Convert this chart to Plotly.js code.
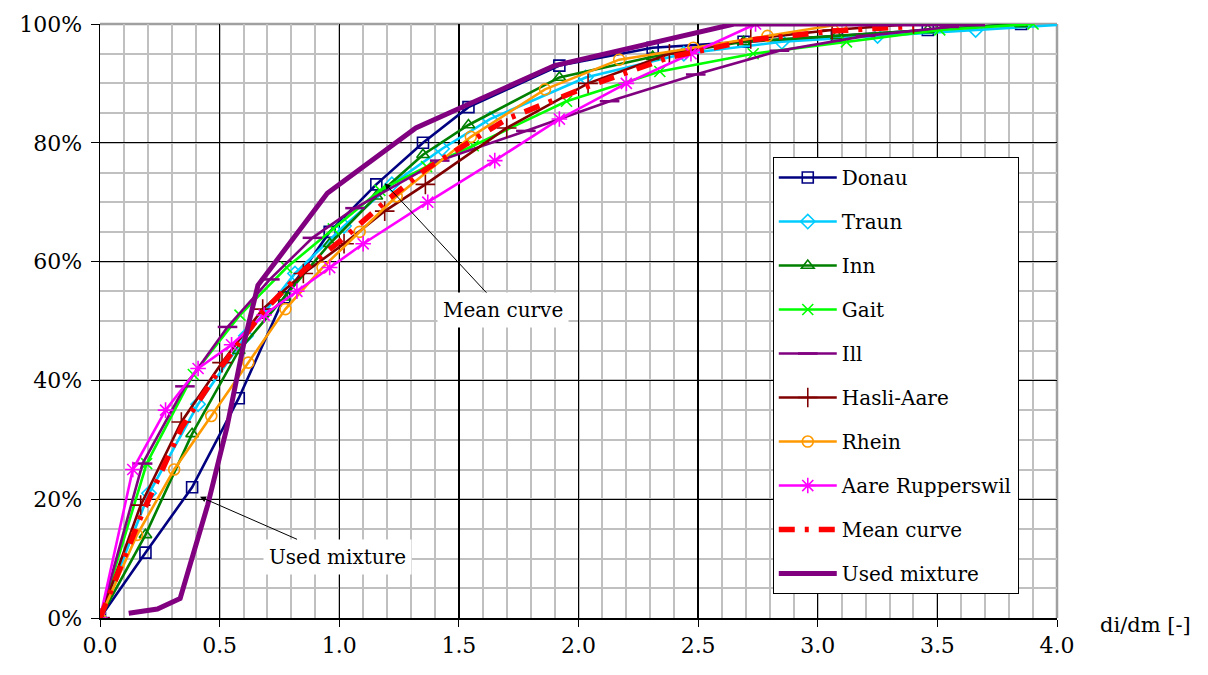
<!DOCTYPE html>
<html>
<head>
<meta charset="utf-8">
<script src="https://cdn.plot.ly/plotly-3.0.1.min.js"></script>
<style>html,body{margin:0;padding:0;background:#fff;}#chart{width:1208px;height:675px;}</style>
</head>
<body>
<div id="chart"></div>
<script>
// Data (x = di/dm, y = % passing)
const donauX = [0, 0.19, 0.385, 0.58, 0.77, 0.96, 1.155, 1.35, 1.54, 1.92, 2.31, 2.69, 3.08, 3.46, 3.85];
const donauY = [0, 11, 22, 37, 54, 65, 73, 80, 86, 93, 96, 97, 98, 99, 100];
const traunX = [0, 0.205, 0.41, 0.61, 0.815, 1.02, 1.22, 1.43, 1.63, 2.03, 2.44, 2.85, 3.25, 3.66, 4.07];
const traunY = [0, 21, 36, 47.5, 58, 66, 73, 79, 84, 91, 95, 97, 98, 99, 100];
const innX = [0, 0.19, 0.385, 0.58, 0.77, 0.96, 1.155, 1.35, 1.54, 1.92, 2.31, 2.69, 3.08, 3.46, 3.85];
const innY = [0, 14, 31, 45, 54, 63, 71, 78, 83, 91, 94.5, 97, 98, 99, 100];
const gaitX = [0, 0.195, 0.39, 0.585, 0.78, 0.975, 1.17, 1.365, 1.56, 1.95, 2.34, 2.73, 3.12, 3.51, 3.9];
const gaitY = [0, 26, 41, 51, 59, 65.5, 72, 76, 79.5, 87, 92, 95, 97, 99, 100];
const illX = [0, 0.178, 0.355, 0.533, 0.71, 0.888, 1.066, 1.42, 1.78, 2.13, 2.49, 2.84, 3.2, 3.55];
const illY = [0, 26, 39, 49, 57, 64, 69, 77, 82, 87, 91.5, 95.5, 98, 99.5];
const hasliX = [0, 0.17, 0.34, 0.51, 0.68, 0.85, 1.02, 1.19, 1.36, 1.70, 2.04, 2.38, 2.72, 3.06, 3.40];
const hasliY = [0, 19, 33, 43, 52, 58, 63, 68.5, 73, 82.5, 90, 95, 97.5, 99, 100];
const rheinX = [0, 0.155, 0.31, 0.465, 0.62, 0.775, 0.93, 1.085, 1.24, 1.55, 1.86, 2.17, 2.48, 2.79, 3.1];
const rheinY = [0, 14, 25, 34, 43, 52, 59, 65, 71, 81, 89, 94, 96, 98, 100];
const aareX = [0, 0.137, 0.274, 0.41, 0.55, 0.686, 0.823, 0.96, 1.1, 1.37, 1.65, 1.92, 2.2, 2.47, 2.74];
const aareY = [0, 25, 35, 42, 46, 51, 55, 59, 63, 70, 77, 84, 90, 95, 100];
const meanX = [0, 0.17, 0.34, 0.51, 0.68, 0.85, 1.02, 1.19, 1.36, 1.70, 2.04, 2.38, 2.72, 3.06, 3.40];
const meanY = [0, 17, 32, 42.5, 51.5, 58.5, 64, 70, 75.5, 84, 89.5, 94.4, 97.3, 98.8, 99.6];
const usedX = [0.12, 0.24, 0.335, 0.45, 0.53, 0.6, 0.66, 0.95, 1.32, 1.9, 2.65, 3.7];
const usedY = [0.8, 1.5, 3.3, 19, 32, 46, 56, 71.5, 82.5, 93, 100, 100];

const xTickVals = [0, 0.5, 1, 1.5, 2, 2.5, 3, 3.5, 4];
const xTickText = ['0.0', '0.5', '1.0', '1.5', '2.0', '2.5', '3.0', '3.5', '4.0'];
const yTickVals = [0, 20, 40, 60, 80, 100];
const yTickText = ['0%', '20%', '40%', '60%', '80%', '100%'];
const xAxisLabel = 'di/dm [-]';
const annMean = 'Mean curve';
const annUsed = 'Used mixture';

const FONT = 'DejaVu Serif';

function series(name, x, y, color, symbol, group) {
  return {
    type: 'scatter', mode: 'lines+markers', name: name, x: x, y: y,
    legendgroup: group,
    line: {color: color, width: 2.6},
    marker: {symbol: symbol, size: 11, color: color, line: {color: color, width: 1.6}}
  };
}

const traces = [
  series('Donau', donauX, donauY, '#000080', 'square-open', 'g1'),
  series('Traun', traunX, traunY, '#00CCFF', 'diamond-open', 'g2'),
  series('Inn', innX, innY, '#008000', 'triangle-up-open', 'g3'),
  series('Gait', gaitX, gaitY, '#00FF00', 'x-thin-open', 'g4'),
  series('Ill', illX, illY, '#800080', 'line-ew-open', 'g5'),
  series('Hasli-Aare', hasliX, hasliY, '#800000', 'cross-thin-open', 'g6'),
  series('Rhein', rheinX, rheinY, '#FF9900', 'circle-open', 'g7'),
  series('Aare Rupperswil', aareX, aareY, '#FF00FF', 'asterisk-open', 'g8'),
  {type: 'scatter', mode: 'lines', name: 'Mean curve', x: meanX, y: meanY, legendgroup: 'g9',
   line: {color: '#FF0000', width: 5.5, dash: '16px,10px,4px,10px'}},
  {type: 'scatter', mode: 'lines', name: 'Used mixture', x: usedX, y: usedY, legendgroup: 'g10',
   line: {color: '#800080', width: 5}}
];

traces[4].marker.size = 14;
traces[4].marker.line.width = 2.5;
traces[5].marker.size = 14;
traces[7].marker.size = 13;

const layout = {
  width: 1208, height: 675,
  margin: {l: 100, r: 151, t: 24, b: 57, pad: 0},
  paper_bgcolor: '#fff', plot_bgcolor: '#fff',
  font: {family: FONT, size: 20, color: '#000'},
  showlegend: true,
  legend: {
    x: 0.703, y: 0.776, xanchor: 'left', yanchor: 'top',
    bgcolor: '#fff', bordercolor: '#000', borderwidth: 1,
    font: {family: FONT, size: 20, color: '#000'},
    tracegroupgap: 15, itemwidth: 58
  },
  xaxis: {
    range: [0, 4], tickvals: xTickVals, ticktext: xTickText,
    showgrid: true, gridcolor: '#000', gridwidth: 1.3,
    minor: {dtick: 0.1, showgrid: true, gridcolor: '#c0c0c0', gridwidth: 2},
    showline: true, linecolor: '#000', linewidth: 1.5,
    ticks: 'outside', ticklen: 7, tickcolor: '#000', tickwidth: 1,
    tickfont: {family: FONT, size: 22, color: '#000'}, zeroline: false, fixedrange: true
  },
  yaxis: {
    range: [0, 100], tickvals: yTickVals, ticktext: yTickText,
    showgrid: true, gridcolor: '#000', gridwidth: 1.3,
    minor: {dtick: 5, showgrid: true, gridcolor: '#c0c0c0', gridwidth: 2},
    showline: true, linecolor: '#000', linewidth: 1.5,
    ticks: 'outside', ticklen: 8, tickcolor: '#000', tickwidth: 1,
    tickfont: {family: FONT, size: 22, color: '#000'}, zeroline: false, fixedrange: true,
    ticklabelstandoff: 4
  },
  shapes: [
    {type: 'line', xref: 'paper', yref: 'paper', x0: 0, x1: 1, y0: 1, y1: 1, layer: 'below',
     line: {color: '#a0a0a0', width: 2.5}},
    {type: 'line', xref: 'paper', yref: 'paper', x0: 1, x1: 1, y0: 0, y1: 1, layer: 'below',
     line: {color: '#a0a0a0', width: 2.5}}
  ],
  annotations: [
    {x: 1.19, y: 73.2, xref: 'x', yref: 'y', text: annMean, showarrow: true,
     ax: 118, ay: 127, arrowhead: 2, arrowsize: 1.2, arrowwidth: 1, arrowcolor: '#000',
     bgcolor: '#fff', borderpad: 5, font: {family: FONT, size: 20, color: '#000'}},
    {x: 0.418, y: 20.4, xref: 'x', yref: 'y', text: annUsed, showarrow: true,
     ax: 137, ay: 60, arrowhead: 2, arrowsize: 1.2, arrowwidth: 1, arrowcolor: '#000',
     bgcolor: '#fff', borderpad: 5, font: {family: FONT, size: 20, color: '#000'}},
    {x: 1.092, y: -0.012, xref: 'paper', yref: 'paper', xanchor: 'center', yanchor: 'middle',
     text: xAxisLabel, showarrow: false,
     font: {family: FONT, size: 21, color: '#000'}}
  ]
};

Plotly.newPlot('chart', traces, layout, {displayModeBar: false, staticPlot: true});
</script>
</body>
</html>
